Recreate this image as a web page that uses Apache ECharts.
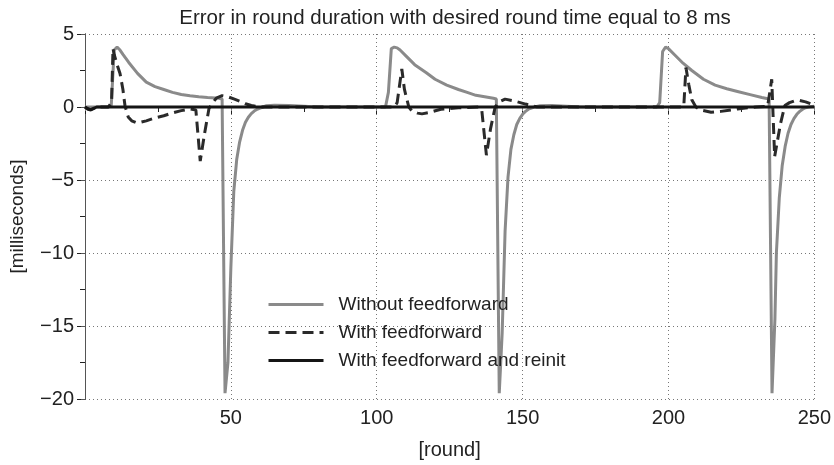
<!DOCTYPE html>
<html>
<head>
<meta charset="UTF-8">
<title>Error in round duration</title>
<script src="https://cdn.jsdelivr.net/npm/echarts@6/dist/echarts.min.js"></script>
<style>
    html, body { margin: 0; padding: 0; background: #fff; }
    #chart { width: 834px; height: 465px; }
</style>
</head>
<body>
<div id="chart"></div>
<script>
// rounds / error values
var noFfX = [0, 8, 9, 10, 11, 12, 13, 15, 18, 21, 24, 27, 30, 33, 36, 39, 42, 46, 47, 48, 49, 50, 51, 52, 53, 54, 55, 56, 57, 58, 59, 60, 61, 62, 65, 70, 75, 80,
    103, 104, 105, 106, 107, 108, 110, 113, 117, 120, 124, 128, 131, 134, 137, 140, 141, 142, 143, 144, 145, 146, 147, 148, 149, 150, 151, 152, 153, 154, 156, 160, 165, 170,
    196, 197, 198, 199, 200, 202, 205, 208, 212, 216, 220, 224, 228, 232, 234.5, 235.5, 236.5, 237, 238, 239, 240, 241, 242, 243, 244, 245, 246, 247, 248, 250];
var noFfY = [0, 0, 0.1, 3.9, 4.1, 3.9, 3.6, 3.05, 2.3, 1.7, 1.4, 1.2, 1.0, 0.86, 0.77, 0.7, 0.65, 0.6, 0.55, -19.6, -17.5, -11, -5.8, -3.6, -2.4, -1.6, -1.05, -0.7, -0.45, -0.28, -0.16, -0.08, 0, 0.08, 0.12, 0.1, 0.05, 0,
    0, 1.0, 4.0, 4.1, 4.05, 3.9, 3.5, 2.9, 2.35, 1.9, 1.5, 1.2, 1.0, 0.8, 0.7, 0.6, 0.55, -19.6, -15.5, -8.5, -4.8, -2.9, -1.9, -1.2, -0.8, -0.5, -0.3, -0.15, -0.07, 0, 0.08, 0.1, 0.05, 0,
    0, 0.3, 3.8, 4.1, 4.0, 3.6, 3.0, 2.5, 1.9, 1.5, 1.25, 1.05, 0.85, 0.65, 0.55, -19.6, -14.5, -10, -6.2, -4, -2.7, -1.8, -1.2, -0.8, -0.5, -0.3, -0.15, -0.05, 0, 0.05];

var ffX = [0, 1, 2, 3, 4, 8, 9.1, 9.6, 10, 11, 12, 13, 13.7, 14.8, 16, 17.6, 19, 21, 24, 27, 30, 33, 36, 38, 39.5, 41, 42.5, 44, 45, 47, 49, 51, 53, 55, 57, 60,
    106, 107, 108.6, 109.5, 111, 112, 114, 115.5, 118, 122, 128, 135, 136, 137.6, 139, 140.6, 142, 144, 147, 151, 155,
    205, 205.3, 206, 207, 208, 209.4, 211, 214.6, 218, 223.7, 230, 234, 235.4, 236.4, 238.4, 239.9, 241.5, 243.3, 245, 247, 249, 250];
var ffY = [0, -0.15, -0.2, -0.1, 0, 0, 0.3, 4.0, 3.6, 2.9, 2.3, 1.2, 0.1, -0.68, -0.95, -1.08, -1.05, -0.95, -0.75, -0.6, -0.4, -0.25, -0.13, -0.2, -3.7, -1.8, -0.1, 0.35, 0.6, 0.78, 0.7, 0.55, 0.4, 0.22, 0.1, 0,
    0, 0.3, 2.6, 1.2, 0, -0.25, -0.42, -0.47, -0.38, -0.15, -0.05, 0, -0.2, -3.3, -1.5, 0, 0.35, 0.54, 0.42, 0.2, 0,
    0, 0.2, 2.7, 1.5, 0.5, 0, -0.2, -0.36, -0.3, -0.13, 0, 0.05, 1.9, -3.4, -1.15, 0.1, 0.3, 0.43, 0.45, 0.35, 0.2, 0.15];

var reinitX = [0, 1, 2, 3, 4, 250];
var reinitY = [0, -0.12, -0.18, -0.1, 0, 0];

var seriesNames = ['Without feedforward', 'With feedforward', 'With feedforward and reinit'];

function pairs(xs, ys) {
    return xs.map(function (x, i) { return [x, ys[i]]; });
}

function fmtY(v) {
    return v < 0 ? '\u2212' + (-v) : '' + v;
}

var font = 'Liberation Sans, Arial, Helvetica, sans-serif';
var dotted = { color: '#777', width: 1, type: [1, 3] };

var chart = echarts.init(document.getElementById('chart'));
chart.setOption({
    animation: false,
    backgroundColor: '#fff',
    title: {
        text: 'Error in round duration with desired round time equal to 8 ms',
        left: 450, textAlign: 'center', top: 3,
        textStyle: { fontFamily: font, fontSize: 20.5, fontWeight: 'normal', color: '#222' }
    },
    legend: {
        orient: 'vertical', left: 262, top: 290,
        itemWidth: 55, itemHeight: 20, itemGap: 9,
        data: seriesNames,
        itemStyle: { opacity: 0 },
        lineStyle: { width: 3 },
        textStyle: { fontFamily: font, fontSize: 19, color: '#222', padding: [0, 0, 0, 10] }
    },
    grid: { left: 85, right: 18, top: 34, bottom: 60 },
    xAxis: [{
        type: 'value', min: 0, max: 250, interval: 50,
        name: '[round]', nameLocation: 'middle', nameGap: 41,
        nameTextStyle: { fontFamily: font, fontSize: 20, color: '#222' },
        axisLine: { lineStyle: { color: '#222', width: 1 } },
        axisTick: { length: 7, lineStyle: { color: '#222' } },
        minorTick: { show: true, splitNumber: 2, length: 5, lineStyle: { color: '#222' } },
        axisLabel: {
            margin: 9, fontFamily: font, fontSize: 20, color: '#222',
            formatter: function (v) { return v === 0 ? '' : v; }
        },
        splitLine: { show: true, lineStyle: dotted }
    }, {
        type: 'value', min: 0, max: 250, interval: 50, position: 'top',
        axisLine: { show: true, lineStyle: { color: '#888', width: 1.5 } },
        axisTick: { show: true, inside: true, length: 4, lineStyle: { color: '#888' } },
        axisLabel: { show: false },
        splitLine: { show: false }
    }],
    yAxis: [{
        type: 'value', min: -20, max: 5, interval: 5,
        name: '[milliseconds]', nameLocation: 'middle', nameGap: 58,
        nameTextStyle: { fontFamily: font, fontSize: 19, color: '#222' },
        axisLine: { show: true, lineStyle: { color: '#222', width: 1 } },
        axisTick: { show: true, length: 8, lineStyle: { color: '#222' } },
        minorTick: { show: true, splitNumber: 2, length: 5, lineStyle: { color: '#222' } },
        axisLabel: { margin: 11, fontFamily: font, fontSize: 20, color: '#222', formatter: fmtY },
        splitLine: { show: true, lineStyle: dotted }
    }, {
        type: 'value', min: -20, max: 5, interval: 5, position: 'right',
        axisLine: { show: true, lineStyle: { color: '#555', width: 1 } },
        axisTick: { show: true, inside: true, length: 4, lineStyle: { color: '#555' } },
        axisLabel: { show: false },
        splitLine: { show: false }
    }],
    series: [{
        name: seriesNames[0], type: 'line', symbol: 'none', z: 2,
        data: pairs(noFfX, noFfY),
        lineStyle: { color: '#8a8a8a', width: 3 },
        itemStyle: { color: '#8a8a8a' }
    }, {
        name: seriesNames[1], type: 'line', symbol: 'none', z: 3,
        data: pairs(ffX, ffY),
        lineStyle: { color: '#2a2a2a', width: 3, type: [11, 6] },
        itemStyle: { color: '#2a2a2a' }
    }, {
        name: seriesNames[2], type: 'line', symbol: 'none', z: 4,
        data: pairs(reinitX, reinitY),
        lineStyle: { color: '#151515', width: 3 },
        itemStyle: { color: '#151515' }
    }]
});
</script>
</body>
</html>
